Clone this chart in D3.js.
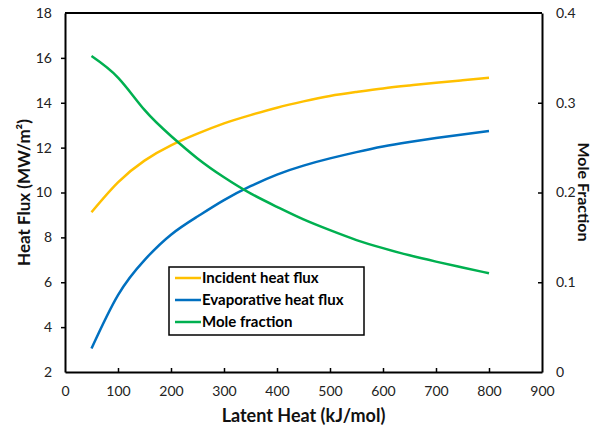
<!DOCTYPE html>
<html>
<head>
<meta charset="utf-8">
<script src="https://cdn.jsdelivr.net/npm/d3@7"></script>
<style>
  html, body { margin: 0; padding: 0; background: #fff; }
  svg { display: block; font-family: Lato, "Open Sans", sans-serif; }
</style>
</head>
<body>
<svg id="chart" width="596" height="429"></svg>
<script>
// Latent heat (kJ/mol) sample points
const latentHeat = [50, 100, 150, 200, 250, 300, 350, 400, 450, 500, 550, 600, 650, 700, 750, 800];
// Heat fluxes (MW/m²)
const incidentFlux = [9.12, 10.45, 11.42, 12.1, 12.62, 13.08, 13.45, 13.78, 14.06, 14.3, 14.48, 14.64, 14.77, 14.89, 15.0, 15.11];
const evaporativeFlux = [3.05, 5.43, 6.99, 8.12, 8.93, 9.66, 10.28, 10.8, 11.2, 11.52, 11.8, 12.05, 12.25, 12.43, 12.59, 12.74];
// Mole fraction (right axis)
const moleFraction = [0.352, 0.328, 0.292, 0.263, 0.238, 0.217, 0.199, 0.184, 0.170, 0.158, 0.147, 0.138, 0.130, 0.123, 0.1165, 0.110];

const xTicks = [0, 100, 200, 300, 400, 500, 600, 700, 800, 900];
const yLeftTicks = [2, 4, 6, 8, 10, 12, 14, 16, 18];
const yRightTicks = [0, 0.1, 0.2, 0.3, 0.4];

const seriesNames = ["Incident heat flux", "Evaporative heat flux", "Mole fraction"];
const seriesColors = ["#FFC000", "#0070C0", "#00B050"];

const svg = d3.select("#chart");
const m = { left: 65, right: 542, top: 13, bottom: 372 };

const x = d3.scaleLinear().domain([0, 900]).range([m.left, m.right]);
const yL = d3.scaleLinear().domain([2, 18]).range([m.bottom, m.top]);
const yR = d3.scaleLinear().domain([0, 0.4]).range([m.bottom, m.top]);

// Frame top edge
svg.append("line")
  .attr("x1", m.left).attr("x2", m.right)
  .attr("y1", m.top).attr("y2", m.top)
  .attr("stroke", "#000").attr("stroke-width", 2);

function styleAxis(g) {
  g.select(".domain").attr("stroke", "#000").attr("stroke-width", 2);
  g.selectAll(".tick line").attr("stroke", "#000").attr("stroke-width", 1.5);
  g.selectAll(".tick text").attr("font-size", 14).attr("fill", "#222")
    .attr("font-family", "Lato, 'Open Sans', sans-serif");
}

// Bottom axis, ticks pointing inward
svg.append("g")
  .attr("transform", `translate(0,${m.bottom})`)
  .call(d3.axisBottom(x).tickValues(xTicks).tickSizeInner(-4).tickSizeOuter(0).tickPadding(14))
  .call(styleAxis)
  .call(g => g.selectAll(".tick").filter(d => d === 0 || d === 900).select("line").remove());

// Left axis, ticks pointing outward
svg.append("g")
  .attr("transform", `translate(${m.left},0)`)
  .call(d3.axisLeft(yL).tickValues(yLeftTicks).tickSizeInner(4).tickSizeOuter(0).tickPadding(9))
  .call(styleAxis)
  .call(g => g.selectAll(".tick").filter(d => d === 2 || d === 18).select("line").remove());

// Right axis, ticks pointing inward
svg.append("g")
  .attr("transform", `translate(${m.right},0)`)
  .call(d3.axisRight(yR).tickValues(yRightTicks).tickFormat(d => d === 0 ? "0" : d3.format(".1f")(d))
    .tickSizeInner(-4).tickSizeOuter(0).tickPadding(14))
  .call(styleAxis)
  .call(g => g.selectAll(".tick").filter(d => d === 0 || d === 0.4).select("line").remove());

// Series lines
const lineL = d3.line().x((d, i) => x(latentHeat[i])).y(d => yL(d)).curve(d3.curveNatural);
const lineR = d3.line().x((d, i) => x(latentHeat[i])).y(d => yR(d)).curve(d3.curveNatural);

svg.append("path").datum(incidentFlux).attr("d", lineL)
  .attr("fill", "none").attr("stroke", seriesColors[0]).attr("stroke-width", 2.5);
svg.append("path").datum(evaporativeFlux).attr("d", lineL)
  .attr("fill", "none").attr("stroke", seriesColors[1]).attr("stroke-width", 2.5);
svg.append("path").datum(moleFraction).attr("d", lineR)
  .attr("fill", "none").attr("stroke", seriesColors[2]).attr("stroke-width", 2.5);

// Axis titles
svg.append("text")
  .attr("x", (m.left + m.right) / 2).attr("y", 422)
  .attr("text-anchor", "middle").attr("font-size", 18).attr("font-weight", "bold").attr("fill", "#111")
  .text("Latent Heat (kJ/mol)");

svg.append("text")
  .attr("transform", `translate(30,${(m.top + m.bottom) / 2}) rotate(-90)`)
  .attr("text-anchor", "middle").attr("font-size", 17).attr("font-weight", "bold").attr("fill", "#111")
  .text("Heat Flux (MW/m²)");

svg.append("text")
  .attr("transform", `translate(578,192) rotate(90)`)
  .attr("text-anchor", "middle").attr("font-size", 16).attr("font-weight", "bold").attr("fill", "#111")
  .text("Mole Fraction");

// Legend
const lg = svg.append("g").attr("transform", "translate(169,267)");
lg.append("rect").attr("width", 195).attr("height", 68)
  .attr("fill", "#fff").attr("stroke", "#000").attr("stroke-width", 1.5);
seriesNames.forEach((name, i) => {
  const yy = 11 + i * 22;
  lg.append("line").attr("x1", 6).attr("x2", 32).attr("y1", yy).attr("y2", yy)
    .attr("stroke", seriesColors[i]).attr("stroke-width", 2.5);
  lg.append("text").attr("x", 33).attr("y", yy).attr("dy", "0.35em")
    .attr("font-size", 15).attr("font-weight", "bold").attr("fill", "#000")
    .text(name);
});
</script>
</body>
</html>
